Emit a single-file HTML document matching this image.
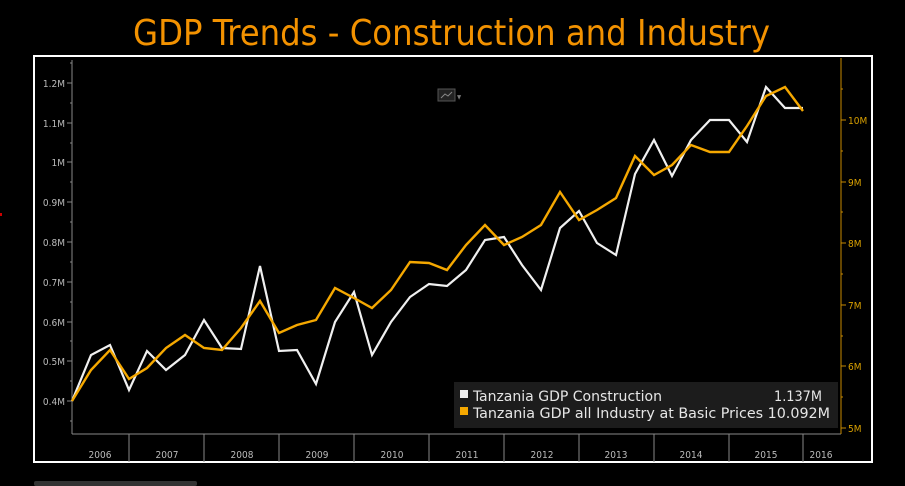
<!DOCTYPE html>
<html><head><meta charset="utf-8"><style>
html,body{margin:0;padding:0;background:#000;width:905px;height:486px;overflow:hidden}
svg{display:block}
</style></head><body>
<svg width="905" height="486" xmlns="http://www.w3.org/2000/svg" font-family="'DejaVu Sans Condensed','DejaVu Sans','Liberation Sans',sans-serif">
<rect width="905" height="486" fill="#000"/>
<text x="133" y="45" font-size="36" fill="#f39200" textLength="637" lengthAdjust="spacingAndGlyphs">GDP Trends - Construction and Industry</text>
<rect x="34" y="56" width="838" height="406" fill="#000" stroke="#fff" stroke-width="2"/>
<rect x="0" y="213" width="2" height="3" fill="#c00"/>
<rect x="34" y="481" width="163" height="5" rx="2" fill="#333"/>
<rect x="438" y="89" width="17" height="12" fill="#222" stroke="#555" stroke-width="1"/>
<polyline points="441,98 445,94 448,96 452,92" fill="none" stroke="#888" stroke-width="1"/>
<text x="457" y="99" font-size="6" fill="#777">▼</text>
<line x1="72" y1="60" x2="72" y2="434" stroke="#888" stroke-width="1"/>
<line x1="72" y1="434" x2="841" y2="434" stroke="#888" stroke-width="1"/>
<g stroke="#888" stroke-width="1">
<line x1="67" y1="83" x2="72" y2="83"/><line x1="67" y1="123" x2="72" y2="123"/><line x1="67" y1="162" x2="72" y2="162"/><line x1="67" y1="202" x2="72" y2="202"/><line x1="67" y1="242" x2="72" y2="242"/><line x1="67" y1="282" x2="72" y2="282"/><line x1="67" y1="322" x2="72" y2="322"/><line x1="67" y1="361" x2="72" y2="361"/><line x1="67" y1="401" x2="72" y2="401"/>
<line x1="70" y1="63" x2="72" y2="63"/><line x1="70" y1="103" x2="72" y2="103"/><line x1="70" y1="143" x2="72" y2="143"/><line x1="70" y1="182" x2="72" y2="182"/><line x1="70" y1="222" x2="72" y2="222"/><line x1="70" y1="262" x2="72" y2="262"/><line x1="70" y1="302" x2="72" y2="302"/><line x1="70" y1="341" x2="72" y2="341"/><line x1="70" y1="381" x2="72" y2="381"/><line x1="70" y1="421" x2="72" y2="421"/>
</g>
<g font-size="10" fill="#bbb" text-anchor="end">
<text x="65" y="87">1.2M</text><text x="65" y="127">1.1M</text><text x="65" y="166">1M</text><text x="65" y="206">0.9M</text><text x="65" y="246">0.8M</text><text x="65" y="286">0.7M</text><text x="65" y="326">0.6M</text><text x="65" y="365">0.5M</text><text x="65" y="405">0.4M</text>
</g>
<line x1="841" y1="58" x2="841" y2="434" stroke="#c98a00" stroke-width="1"/>
<g stroke="#c98a00" stroke-width="1">
<line x1="841" y1="120" x2="846" y2="120"/><line x1="841" y1="182" x2="846" y2="182"/><line x1="841" y1="243" x2="846" y2="243"/><line x1="841" y1="305" x2="846" y2="305"/><line x1="841" y1="366" x2="846" y2="366"/><line x1="841" y1="428" x2="846" y2="428"/>
<line x1="841" y1="89" x2="843" y2="89"/><line x1="841" y1="151" x2="843" y2="151"/><line x1="841" y1="212" x2="843" y2="212"/><line x1="841" y1="274" x2="843" y2="274"/><line x1="841" y1="336" x2="843" y2="336"/><line x1="841" y1="397" x2="843" y2="397"/>
</g>
<g font-size="10" fill="#d9a000">
<text x="848" y="124">10M</text><text x="848" y="186">9M</text><text x="848" y="247">8M</text><text x="848" y="309">7M</text><text x="848" y="370">6M</text><text x="848" y="432">5M</text>
</g>
<g stroke="#888" stroke-width="1">
<line x1="129" y1="434" x2="129" y2="462"/><line x1="204" y1="434" x2="204" y2="462"/><line x1="279" y1="434" x2="279" y2="462"/><line x1="354" y1="434" x2="354" y2="462"/><line x1="429" y1="434" x2="429" y2="462"/><line x1="504" y1="434" x2="504" y2="462"/><line x1="579" y1="434" x2="579" y2="462"/><line x1="654" y1="434" x2="654" y2="462"/><line x1="729" y1="434" x2="729" y2="462"/><line x1="803" y1="434" x2="803" y2="462"/>
</g>
<g font-size="10" fill="#bbb" text-anchor="middle">
<text x="100" y="458">2006</text><text x="167" y="458">2007</text><text x="242" y="458">2008</text><text x="317" y="458">2009</text><text x="392" y="458">2010</text><text x="467" y="458">2011</text><text x="542" y="458">2012</text><text x="616" y="458">2013</text><text x="691" y="458">2014</text><text x="766" y="458">2015</text><text x="821" y="458">2016</text>
</g>
<polyline fill="none" stroke="#f0f0f0" stroke-width="2.2" points="72,401 91,355 110,345 129,390 147,351 166,370 185,355 204,320 222,348 241,349 260,266 279,351 297,350 316,384 335,322 354,292 372,355 391,322 410,297 429,284 447,286 466,270 485,240 504,237 522,265 541,290 560,228 579,211 597,243 616,255 635,174 654,140 672,176 691,140 710,120 729,120 747,142 766,87 785,108 803,108"/>
<polyline fill="none" stroke="#f5a800" stroke-width="2.4" points="72,401 91,370 110,350 129,379 147,368 166,348 185,335 204,348 222,350 241,328 260,301 279,333 297,325 316,320 335,288 354,298 372,308 391,290 410,262 429,263 447,270 466,245 485,225 504,245 522,237 541,225 560,192 579,220 597,210 616,198 635,156 654,175 672,165 691,145 710,152 729,152 747,126 766,96 785,87 803,111"/>
<rect x="454" y="382" width="384" height="46" fill="#1c1c1c"/>
<rect x="460" y="390" width="8" height="8" fill="#f0f0f0"/>
<rect x="460" y="407" width="8" height="8" fill="#f5a800"/>
<g font-size="14" fill="#e6e6e6">
<text x="473" y="401" textLength="189" lengthAdjust="spacingAndGlyphs">Tanzania GDP Construction</text>
<text x="774" y="401" textLength="48" lengthAdjust="spacingAndGlyphs">1.137M</text>
<text x="473" y="418" textLength="357" lengthAdjust="spacingAndGlyphs">Tanzania GDP all Industry at Basic Prices 10.092M</text>
</g>
</svg>
</body></html>
